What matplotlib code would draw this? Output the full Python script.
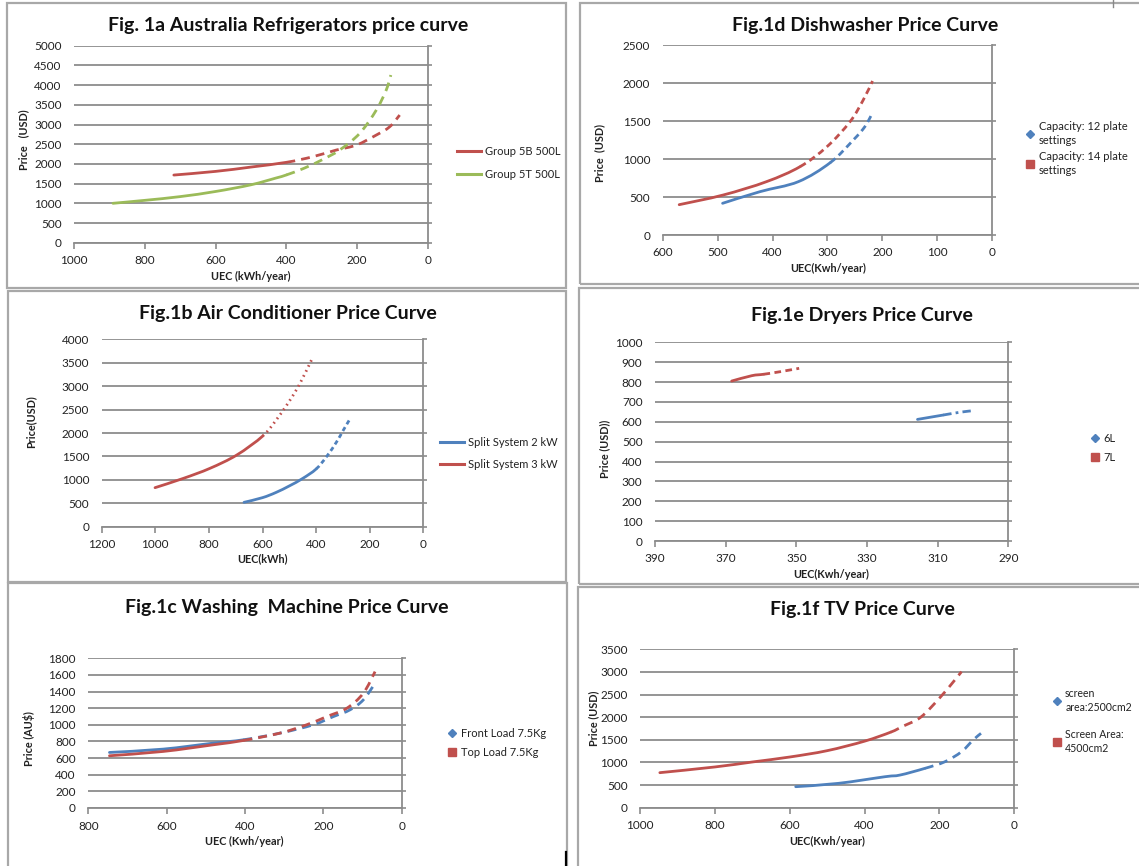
import matplotlib
matplotlib.use("Agg")
import matplotlib.pyplot as plt
from matplotlib.lines import Line2D
from matplotlib.patches import Rectangle, PathPatch
from matplotlib.path import Path

plt.rcParams['font.family'] = ['Lato', 'DejaVu Sans']

W, H = 1139, 866
BLUE = '#4F81BD'
RED = '#C0504D'
GREEN = '#9BBB59'
GRID = '#8c8c8c'

# ---- data ----
# Fig 1a refrigerators
fridge_5b_uec = [718, 600, 500, 400, 325, 259, 202, 146, 108, 80]
fridge_5b_price = [1717, 1810, 1920, 2040, 2183, 2352, 2479, 2733, 2944, 3240]
fridge_5t_uec = [890, 800, 700, 600, 500, 430, 400, 350, 300, 250, 193, 146, 118, 105]
fridge_5t_price = [1000, 1075, 1170, 1300, 1470, 1640, 1720, 1890, 2100, 2350, 2775, 3367, 3875, 4255]

# Fig 1b air conditioners
ac_3kw_uec = [1001, 895, 796, 696, 599, 547, 497, 460, 417]
ac_3kw_price = [833, 1032, 1246, 1530, 1936, 2292, 2705, 3060, 3559]
ac_2kw_uec = [669, 600, 550, 500, 450, 400, 361, 323, 298, 276]
ac_2kw_price = [520, 620, 730, 870, 1030, 1231, 1495, 1815, 2064, 2278]

# Fig 1c washing machines
wash_front_uec = [746, 609, 481, 404, 311, 226, 174, 132, 98, 68]
wash_front_price = [668, 708, 780, 820, 900, 1000, 1100, 1180, 1300, 1500]
wash_top_uec = [746, 609, 481, 404, 311, 243, 191, 140, 98, 68]
wash_top_price = [628, 680, 760, 812, 900, 1000, 1100, 1200, 1380, 1640]

# Fig 1d dishwashers
dish_12_uec = [491, 423, 353, 295, 253, 232, 221]
dish_12_price = [417, 570, 702, 952, 1250, 1425, 1566]
dish_14_uec = [570, 490, 411, 350, 301, 259, 235, 218]
dish_14_price = [399, 526, 702, 899, 1162, 1491, 1776, 2026]

# Fig 1e dryers
dry_6l_uec = [315.7, 308.4, 303.7, 299.9]
dry_6l_price = [612, 634, 648, 656]
dry_7l_uec = [368.3, 362.6, 359.3, 354.6, 349.2]
dry_7l_price = [805, 832, 839, 852, 869]

# Fig 1f TVs
tv_2500_uec = [584, 470, 345, 305, 239, 185, 141, 110, 89]
tv_2500_price = [464, 538, 685, 722, 869, 1017, 1238, 1496, 1643]
tv_4500_uec = [947, 800, 700, 600, 500, 400, 330, 300, 250, 200, 163, 141]
tv_4500_price = [774, 900, 1010, 1120, 1260, 1470, 1670, 1790, 2000, 2420, 2780, 3006]

fig = plt.figure(figsize=(W / 100, H / 100), dpi=100)
fig.patch.set_facecolor('white')


def fx(px):
    return px / W


def fy(py):
    return 1 - py / H


def panel_box(x0, y0, x1, y1):
    fig.add_artist(Rectangle((fx(x0), fy(y1)), fx(x1) - fx(x0), fy(y0) - fy(y1),
                             transform=fig.transFigure, fill=False,
                             edgecolor='#a8a8a8', lw=1.6))


def make_axes(x0, y0, x1, y1, xlim, xstep, ylim, ystep):
    ax = fig.add_axes([fx(x0), fy(y1), fx(x1) - fx(x0), fy(y0) - fy(y1)])
    ax.set_xlim(xlim[0], xlim[1])
    ax.set_ylim(ylim[0], ylim[1])
    lo, hi = min(xlim), max(xlim)
    ax.set_xticks(list(range(int(lo), int(hi) + 1, xstep)))
    ax.set_yticks(list(range(int(ylim[0]), int(ylim[1]) + 1, ystep)))
    ax.yaxis.grid(True, color=GRID, lw=1.3)
    ax.set_axisbelow(True)
    for s in ['top', 'left']:
        ax.spines[s].set_visible(False)
    for s in ['right', 'bottom']:
        ax.spines[s].set_color(GRID)
        ax.spines[s].set_linewidth(1.3)
    ax.tick_params(axis='x', direction='out', length=4, color=GRID, width=1.2,
                   labelsize=8.5, pad=5, labelcolor='#222222')
    ax.tick_params(axis='y', left=False, right=True, labelleft=True, labelright=False,
                   direction='out', length=3, color=GRID, width=1.2,
                   labelsize=8.5, pad=6, labelcolor='#222222')
    return ax


def smooth_path(x, y):
    # smoothed line through the points, like Excel's "smoothed line" option
    pts = list(zip(x, y))
    verts = [pts[0]]
    codes = [Path.MOVETO]
    for i in range(len(pts) - 1):
        p0 = pts[max(i - 1, 0)]
        p1 = pts[i]
        p2 = pts[i + 1]
        p3 = pts[min(i + 2, len(pts) - 1)]
        c1 = (p1[0] + (p2[0] - p0[0]) / 6, p1[1] + (p2[1] - p0[1]) / 6)
        c2 = (p2[0] - (p3[0] - p1[0]) / 6, p2[1] - (p3[1] - p1[1]) / 6)
        verts += [c1, c2, p2]
        codes += [Path.CURVE4] * 3
    return verts, codes


def two_style(ax, x, y, n, color, ls, lw=2.0):
    # first n points solid, the rest with the projection line style
    verts, codes = smooth_path(x, y)
    k = 1 + 3 * (n - 1)
    solid = Path(verts[:k], codes[:k])
    proj = Path(verts[k - 1:], [Path.MOVETO] + codes[k:])
    ax.add_patch(PathPatch(solid, fill=False, edgecolor=color, lw=lw, capstyle='round'))
    ax.add_patch(PathPatch(proj, fill=False, edgecolor=color, lw=lw, linestyle=ls))


def title(x, y, text):
    fig.text(fx(x), fy(y), text, ha='center', va='center', fontsize=14,
             fontweight='bold', color='#111111')


def label(x, y, text, rot=0):
    fig.text(fx(x), fy(y), text, ha='center', va='center', fontsize=7.8,
             fontweight='bold', rotation=rot, color='#222222')


def legend(ax, handles, labels, x, y, spacing, hlen=2.2, size=8):
    leg = ax.legend(handles, labels, loc='upper left', bbox_to_anchor=(fx(x), fy(y)),
                    bbox_transform=fig.transFigure, frameon=False, fontsize=size,
                    handlelength=hlen, handletextpad=0.35, labelspacing=spacing,
                    borderaxespad=0, borderpad=0)
    for t in leg.get_texts():
        t.set_linespacing(1.35)
        t.set_color('#222222')


def mark_handles():
    return [Line2D([], [], color=BLUE, marker='D', ls='none', ms=4.5),
            Line2D([], [], color=RED, marker='s', ls='none', ms=6)]


def line_handles(c1, c2):
    return [Line2D([], [], color=c1, lw=2.2), Line2D([], [], color=c2, lw=2.2)]


dash_long = (0, (3.2, 2.2))
dash_short = (0, (2.4, 1.6))

# ---- Fig 1a ----
panel_box(7, 3, 566, 288)
ax = make_axes(74, 45.7, 428, 242.7, (1000, 0), 200, (0, 5000), 500)
two_style(ax, fridge_5b_uec, fridge_5b_price, 4, RED, dash_long)
two_style(ax, fridge_5t_uec, fridge_5t_price, 7, GREEN, dash_long)
title(288, 26, 'Fig. 1a Australia Refrigerators price curve')
label(251, 276, 'UEC (kWh/year)')
label(24, 140, 'Price   (USD)', 90)
legend(ax, line_handles(RED, GREEN), ['Group 5B 500L', 'Group 5T 500L'], 457, 146, 1.05)

# ---- Fig 1d ----
panel_box(580, 3, 1145, 284)
ax = make_axes(662.7, 45, 992.3, 235, (600, 0), 100, (0, 2500), 500)
two_style(ax, dish_12_uec, dish_12_price, 4, BLUE, dash_short)
two_style(ax, dish_14_uec, dish_14_price, 4, RED, dash_short)
title(865, 26, 'Fig.1d Dishwasher Price Curve')
label(828, 268, 'UEC(Kwh/year)')
label(600, 153, 'Price  (USD)', 90)
legend(ax, mark_handles(), ['Capacity: 12 plate\nsettings', 'Capacity: 14 plate\nsettings'],
       1026, 121, 0.4, hlen=0.8)

# ---- Fig 1b ----
panel_box(8, 291, 566, 582)
ax = make_axes(101.7, 339.3, 423.3, 526.7, (1200, 0), 200, (0, 4000), 500)
two_style(ax, ac_2kw_uec, ac_2kw_price, 6, BLUE, (0, (1.6, 1.2)))
two_style(ax, ac_3kw_uec, ac_3kw_price, 5, RED, (0, (0.6, 1.4)))
title(288, 313, 'Fig.1b Air Conditioner Price Curve')
label(262, 559, 'UEC(kWh)')
label(31, 422, 'Price(USD)', 90)
legend(ax, line_handles(BLUE, RED), ['Split System 2 kW', 'Split System 3 kW'], 440, 437, 1.0)

# ---- Fig 1e ----
panel_box(579, 288, 1145, 584)
ax = make_axes(655, 342.3, 1008.3, 541, (390, 290), 20, (0, 1000), 100)
two_style(ax, dry_6l_uec, dry_6l_price, 2, BLUE, (0, (3, 1.5, 1, 1.5)))
two_style(ax, dry_7l_uec, dry_7l_price, 3, RED, dash_short)
title(862, 316, 'Fig.1e Dryers Price Curve')
label(831, 574, 'UEC(Kwh/year)')
label(605, 449, 'Price (USD))', 90)
legend(ax, mark_handles(), ['6L', '7L'], 1091, 433, 0.75, hlen=0.8)

# ---- Fig 1c ----
panel_box(8, 583, 567, 870)
ax = make_axes(88.3, 658.3, 401.7, 808, (800, 0), 200, (0, 1800), 200)
two_style(ax, wash_front_uec, wash_front_price, 4, BLUE, dash_long)
two_style(ax, wash_top_uec, wash_top_price, 4, RED, dash_long)
title(287, 607, 'Fig.1c Washing  Machine Price Curve')
label(244, 841, 'UEC (Kwh/year)')
label(29, 739, 'Price (AU$)', 90)
legend(ax, mark_handles(), ['Front Load 7.5Kg', 'Top Load 7.5Kg'], 448, 728, 0.75, hlen=0.8)

# ---- Fig 1f ----
panel_box(578, 587, 1145, 870)
ax = make_axes(640, 649.3, 1014.3, 807.7, (1000, 0), 200, (0, 3500), 500)
two_style(ax, tv_2500_uec, tv_2500_price, 5, BLUE, dash_long)
two_style(ax, tv_4500_uec, tv_4500_price, 7, RED, dash_long)
title(862, 610, 'Fig.1f TV Price Curve')
label(827, 841, 'UEC(Kwh/year)')
label(594, 718, 'Price (USD)', 90)
legend(ax, mark_handles(), ['screen\narea:2500cm2', 'Screen Area:\n4500cm2'],
       1053, 688, 1.5, hlen=0.8, size=7.6)

# small stray marks on the scanned page
fig.add_artist(Line2D([fx(566), fx(566)], [fy(852), fy(866)], transform=fig.transFigure,
                      color='black', lw=1.6))
fig.add_artist(Line2D([fx(1113), fx(1113)], [fy(0), fy(7)], transform=fig.transFigure,
                      color='#888888', lw=1))

fig.savefig('out.png', dpi=100, facecolor='white')
